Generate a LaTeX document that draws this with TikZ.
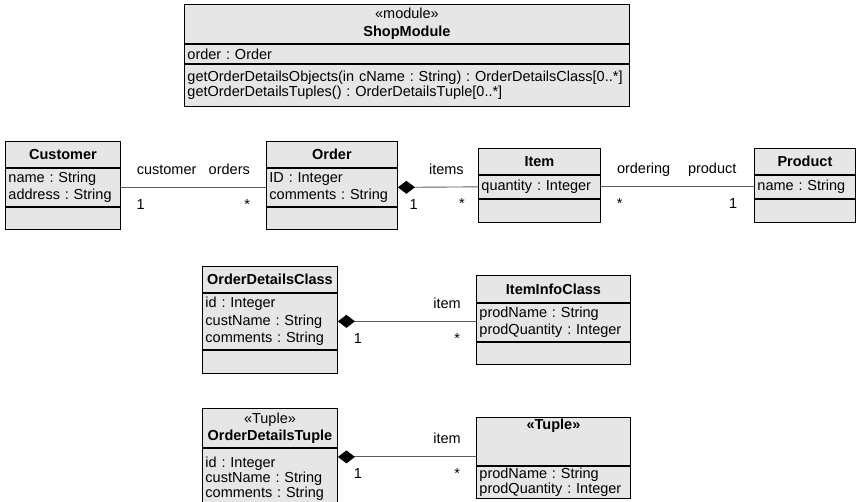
\documentclass[tikz,border=0pt]{standalone}
\usepackage{fontspec}
\setmainfont{Liberation Sans}
\usetikzlibrary{arrows.meta}
\definecolor{classfill}{HTML}{E6E6E6}
\definecolor{linkgray}{HTML}{5C5C5C}

\begin{document}
\begin{tikzpicture}[x=1pt,y=-1pt,
    every node/.style={font=\fontsize{14.5}{17}\selectfont\frenchspacing},
    box/.style={draw=black, fill=classfill, line width=0.9pt, anchor=north west,
      inner xsep=3pt, inner ysep=0pt, align=left},
    head/.style={box, align=center},
    link/.style={draw=linkgray, line width=0.9pt},
    comp/.style={link, {Diamond[color=black,length=17pt,width=13pt]}-},
    role/.style={anchor=base, yshift=13pt},
    mult/.style={anchor=base, yshift=-22pt}]
    % frame of the page (pixel units, y down)
    \useasboundingbox (0,0) rectangle (856,501);
    \clip (0,0) rectangle (856,501);

    % ShopModule
    \node[head, text width=439pt, minimum height=39pt, font=\fontsize{14.5}{18}\selectfont] (shop) at (184,4) {«module»\\\textbf{ShopModule}};
    \node[box, text width=439pt, minimum height=19pt] (shopAttr) at (shop.south west) {order : Order};
    \node[box, text width=439pt, minimum height=42pt, font=\fontsize{14.5}{14.5}\selectfont\frenchspacing] (shopOps) at (shopAttr.south west)
      {\mbox{getOrderDetailsObjects(in cName : String) : OrderDetailsClass[0..*]}\\\mbox{getOrderDetailsTuples() : OrderDetailsTuple[0..*]}};

    % Customer
    \node[head, text width=109pt, minimum height=26pt] (customer) at (5,141) {\textbf{Customer}};
    \node[box, text width=109pt, minimum height=38pt] (customerAttr) at (customer.south west) {name : String\\address : String};
    \node[box, text width=109pt, minimum height=22pt] (customerOps) at (customerAttr.south west) {};

    % Order
    \node[head, text width=125pt, minimum height=26pt] (order) at (266,141) {\textbf{Order}};
    \node[box, text width=125pt, minimum height=38pt] (orderAttr) at (order.south west) {ID : Integer\\comments : String};
    \node[box, text width=125pt, minimum height=22pt] (orderOps) at (orderAttr.south west) {};

    % Item
    \node[head, text width=116pt, minimum height=26pt] (item) at (478,148) {\textbf{Item}};
    \node[box, text width=116pt, minimum height=23pt] (itemAttr) at (item.south west) {quantity : Integer};
    \node[box, text width=116pt, minimum height=23pt] (itemOps) at (itemAttr.south west) {};

    % Product
    \node[head, text width=95pt, minimum height=26pt] (product) at (754,148) {\textbf{Product}};
    \node[box, text width=95pt, minimum height=23pt] (productAttr) at (product.south west) {name : String};
    \node[box, text width=95pt, minimum height=23pt] (productOps) at (productAttr.south west) {};

    % OrderDetailsClass
    \node[head, text width=129pt, minimum height=26pt] (odc) at (202,266) {\textbf{OrderDetailsClass}};
    \node[box, text width=129pt, minimum height=56pt, font=\fontsize{14.5}{17.5}\selectfont\frenchspacing] (odcAttr) at (odc.south west) {id : Integer\\custName : String\\comments : String};
    \node[box, text width=129pt, minimum height=23pt] (odcOps) at (odcAttr.south west) {};

    % ItemInfoClass
    \node[head, text width=148pt, minimum height=27pt] (iic) at (476,275) {\textbf{ItemInfoClass}};
    \node[box, text width=148pt, minimum height=38pt, font=\fontsize{14.5}{16.5}\selectfont\frenchspacing] (iicAttr) at (iic.south west) {prodName : String\\prodQuantity : Integer};
    \node[box, text width=148pt, minimum height=22pt] (iicOps) at (iicAttr.south west) {};

    % OrderDetailsTuple (runs off the bottom)
    \node[head, text width=129pt, minimum height=39pt] (odt) at (202,408) {«Tuple»\\\textbf{OrderDetailsTuple}};
    \node[box, text width=129pt, minimum height=60pt, font=\fontsize{14.5}{15}\selectfont\frenchspacing] (odtAttr) at (odt.south west) {id : Integer\\custName : String\\comments : String};

    % unnamed tuple
    \node[head, text width=148pt, minimum height=48pt, text height=12pt, text depth=36pt] (tuple) at (476,417) {\textbf{«Tuple»}};
    \node[box, text width=148pt, minimum height=32pt, font=\fontsize{14.5}{14.5}\selectfont\frenchspacing] (tupleAttr) at (tuple.south west) {prodName : String\\prodQuantity : Integer};

    % associations
    \draw[link] (customerAttr.east) -- (orderAttr.west)
      node[role, pos=.315] {customer} node[role, pos=.747] {orders}
      node[mult, pos=.137] {1} node[mult, pos=.87] {*};
    \draw[comp] (orderAttr.east) -- (itemAttr.west)
      node[role, pos=.605] {items}
      node[mult, pos=.198] {1} node[mult, pos=.80] {*};
    \draw[link] (itemAttr.east) -- (productAttr.west)
      node[role, pos=.279] {ordering} node[role, pos=.727] {product}
      node[mult, pos=.123] {*} node[mult, pos=.864] {1};
    \draw[comp] (odcAttr.east) -- (odcAttr.east -| iicAttr.west)
      node[role, pos=.79] {item}
      node[mult, pos=.144] {1} node[mult, pos=.863] {*};
    \coordinate (odtLink) at ([yshift=-9pt]odtAttr.north east);
    \draw[comp] (odtLink) -- (odtLink -| tuple.west)
      node[role, pos=.79] {item}
      node[mult, pos=.144] {1} node[mult, pos=.863] {*};
\end{tikzpicture}
\end{document}
